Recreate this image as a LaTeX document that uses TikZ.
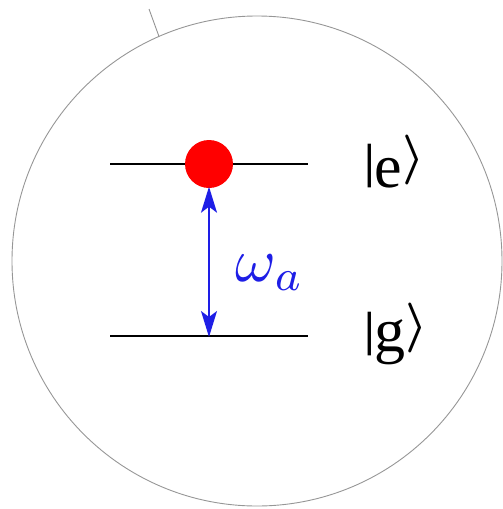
\documentclass[tikz,border=0pt]{standalone}
\usepackage{graphicx}
\usepackage{fontspec}
\setmainfont{Liberation Serif}
\usetikzlibrary{arrows.meta}
\definecolor{ringgray}{RGB}{150,150,150}
\definecolor{omegablue}{RGB}{30,30,230}
\newcommand{\bigket}{\raisebox{14.5pt}{\normalsize\scalebox{5}{\boldmath$\rangle$}}}
\newcommand{\bigbar}{\raisebox{10pt}{\fontsize{48}{48}\selectfont\textbf{|}}}
\begin{document}
\begin{tikzpicture}[x=1pt,y=-1pt,
  level/.style={line width=1.6pt,black},
  ket/.style={anchor=base west,inner sep=0pt,outer sep=0pt},
  trans/.style={line width=1.6pt,omegablue,{Stealth[length=26pt,width=16pt,inset=6pt]}-{Stealth[length=26pt,width=16pt,inset=6pt]}}]
\useasboundingbox (0,0) rectangle (503,509);
\node[circle,draw=ringgray,line width=0.9pt,minimum size=490pt,inner sep=0pt] (ring) at (257,261) {};
\coordinate (tickin) at (159,36.5);
\coordinate (tickout) at (149,9);
\draw[ringgray,line width=0.9pt] (tickout) -- (tickin);
% levels
\coordinate (eL) at (110,164);
\coordinate (eR) at (308,164);
\coordinate (gL) at (110,336);
\coordinate (gR) at (308,336);
\draw[level] (eL) -- (eR);
\draw[level] (gL) -- (gR);
\node[circle,fill=red,minimum size=48pt,inner sep=0pt] (dot) at (209,164) {};
\coordinate (gpt) at (209,336);
\draw[trans] ([yshift=1.5pt]dot.south) -- ([yshift=-1pt]gpt);
\node[omegablue,inner sep=0pt] (omega) at (270,273) {\scalebox{6.2}{$\omega_a$}};
% kets
\node[ket] (kete) at (364,187) {\bigbar\fontsize{62}{62}\selectfont e\bigket};
\node[ket] (ketg) at (364,355) {\bigbar\fontsize{62}{62}\selectfont\raisebox{4pt}{g}\bigket};
\end{tikzpicture}
\end{document}
